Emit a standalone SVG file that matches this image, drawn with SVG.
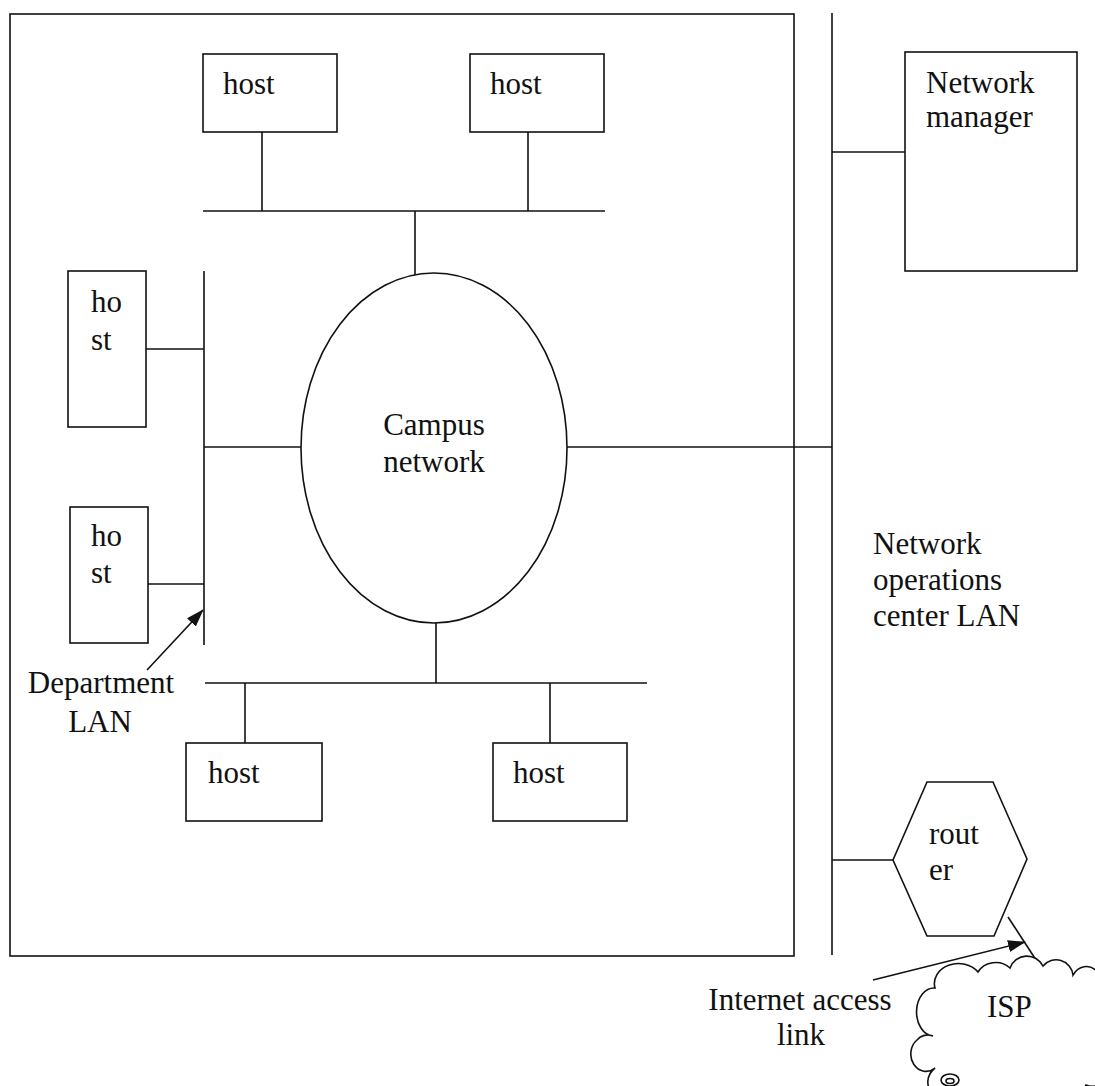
<svg xmlns="http://www.w3.org/2000/svg" width="1095" height="1086" viewBox="0 0 1095 1086">
<style>
.s{fill:none;stroke:#111;stroke-width:1.6}
.b{fill:#fff;stroke:#111;stroke-width:1.6}
text{font-family:"Liberation Serif","Times New Roman",serif;font-size:31px;fill:#111}
.m{text-anchor:middle}
</style>
<defs>
<marker id="ah" markerWidth="18" markerHeight="12" refX="17" refY="6" orient="auto" markerUnits="userSpaceOnUse">
<path d="M0,0 L18,6 L0,12 Z" fill="#111"/>
</marker>
</defs>
<rect width="1095" height="1086" fill="#fff"/>
<g id="campus-area">
<rect class="s" x="10" y="14" width="784" height="942"/>
</g>
<g id="connectors">
<line class="s" x1="832" y1="13" x2="832" y2="955"/>
<line class="s" x1="203" y1="211" x2="605" y2="211"/>
<line class="s" x1="262" y1="132" x2="262" y2="211"/>
<line class="s" x1="528" y1="132" x2="528" y2="211"/>
<line class="s" x1="415" y1="211" x2="415" y2="275"/>
<line class="s" x1="204" y1="271" x2="204" y2="645"/>
<line class="s" x1="146" y1="349" x2="204" y2="349"/>
<line class="s" x1="148" y1="584" x2="204" y2="584"/>
<line class="s" x1="204" y1="447" x2="301" y2="447"/>
<line class="s" x1="567" y1="447" x2="832" y2="447"/>
<line class="s" x1="205" y1="683" x2="647" y2="683"/>
<line class="s" x1="436" y1="623" x2="436" y2="683"/>
<line class="s" x1="245" y1="683" x2="245" y2="743"/>
<line class="s" x1="550" y1="683" x2="550" y2="743"/>
<line class="s" x1="832" y1="152" x2="905" y2="152"/>
<line class="s" x1="832" y1="860" x2="893" y2="860"/>
<line class="s" x1="1008" y1="917" x2="1040" y2="966"/>
<line class="s" x1="147" y1="670" x2="203" y2="610" marker-end="url(#ah)"/>
<path class="s" d="M873,980 Q945,962 1025,942" marker-end="url(#ah)"/>
</g>
<g id="host-top-left">
<rect class="b" x="203" y="54" width="134" height="78"/>
<text x="223" y="94">host</text>
</g>
<g id="host-top-right">
<rect class="b" x="470" y="54" width="134" height="78"/>
<text x="490" y="94">host</text>
</g>
<g id="host-left-1">
<rect class="b" x="68" y="271" width="78" height="156"/>
<text x="91" y="312">ho</text>
<text x="91" y="350">st</text>
</g>
<g id="host-left-2">
<rect class="b" x="70" y="507" width="78" height="136"/>
<text x="91" y="546">ho</text>
<text x="91" y="583">st</text>
</g>
<g id="host-bottom-left">
<rect class="b" x="186" y="743" width="136" height="78"/>
<text x="208" y="783">host</text>
</g>
<g id="host-bottom-right">
<rect class="b" x="493" y="743" width="134" height="78"/>
<text x="513" y="783">host</text>
</g>
<g id="campus-network">
<ellipse class="b" cx="434" cy="448" rx="133" ry="175"/>
<text class="m" x="434" y="435">Campus</text>
<text class="m" x="434" y="472">network</text>
</g>
<g id="department-lan-label">
<text class="m" x="101" y="693">Department</text>
<text class="m" x="100" y="732">LAN</text>
</g>
<g id="network-manager">
<rect class="b" x="905" y="52" width="172" height="219"/>
<text x="926" y="93">Network</text>
<text x="926" y="127">manager</text>
</g>
<g id="noc-lan-label">
<text x="873" y="554">Network</text>
<text x="873" y="590">operations</text>
<text x="873" y="626">center LAN</text>
</g>
<g id="router">
<polygon class="b" points="927,782 993,782 1027,859 994,936 927,936 893,860"/>
<text x="929" y="844">rout</text>
<text x="929" y="880">er</text>
</g>
<g id="internet-access-label">
<text class="m" x="800" y="1010">Internet access</text>
<text class="m" x="801" y="1045">link</text>
</g>
<g id="isp">
<path class="b" d="M935,988 A24,20 0 0 1 978,972 A20,18 0 0 1 1010,968 A18,18 0 0 1 1043,966 A17,17 0 0 1 1073,975 A16,20 0 0 1 1100,1000 A16,22 0 0 1 1098,1045 A16,20 0 0 1 1086,1085 A30,20 0 0 1 1040,1096 L965,1096 A14,12 0 0 1 935,1068 A14,16 0 0 1 917,1040 A14,14 0 0 1 933,1036 A16,22 0 0 1 935,988 Z"/>
<ellipse class="s" cx="950" cy="1080" rx="9" ry="6"/>
<ellipse class="s" cx="950" cy="1081" rx="4" ry="2.5"/>
<text x="987" y="1017">ISP</text>
</g>
</svg>
